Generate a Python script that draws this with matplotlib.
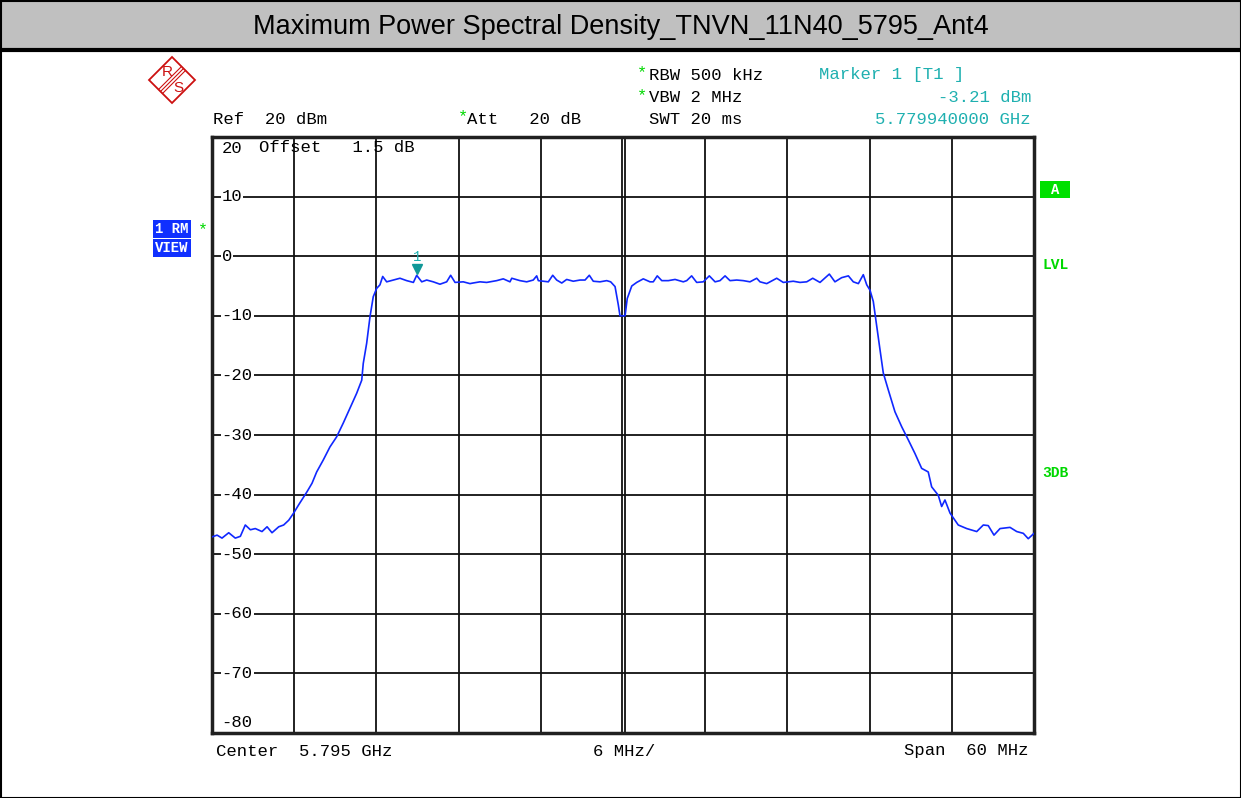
import matplotlib
matplotlib.use("Agg")
import matplotlib.pyplot as plt
from matplotlib.patches import Rectangle, Polygon
import matplotlib.transforms as mtrans

W, H = 1241, 798

# ---- data: frequency offset from centre (MHz) and level (dBm) ----
freq_mhz = [-30.00, -29.63, -29.27, -28.78, -28.30, -27.93, -27.57, -27.20, -26.84, -26.35,
            -25.98, -25.62, -25.13, -24.77, -24.40, -24.04, -23.67, -23.31, -23.06, -22.70,
            -22.36, -21.88, -21.39, -20.90, -20.42, -19.93, -19.44, -19.07, -18.96, -18.71,
            -18.47, -18.23, -17.98, -17.74, -17.54, -17.25, -16.77, -16.28, -15.79, -15.30,
            -15.06, -14.69, -14.33, -13.85, -13.36, -12.87, -12.58, -12.26, -11.66, -11.17,
            -10.95, -10.44, -9.95, -9.22, -8.74, -8.25, -8.12, -7.52, -7.03, -6.55,
            -6.30, -6.18, -5.82, -5.45, -5.13, -4.84, -4.47, -4.11, -3.63, -3.14,
            -2.77, -2.46, -2.17, -1.68, -1.19, -0.90, -0.58, -0.34, -0.22, 0.15,
            0.31, 0.64, 1.00, 1.48, 1.97, 2.21, 2.50, 2.83, 3.31, 3.80,
            4.40, 4.65, 5.01, 5.38, 5.86, 6.30, 6.72, 7.08, 7.45, 7.81,
            8.30, 8.78, 9.27, 9.76, 10.00, 10.49, 11.22, 11.70, 12.43, 12.92,
            13.41, 13.85, 14.38, 15.06, 15.47, 15.96, 16.45, 16.81, 17.18, 17.54,
            17.79, 18.03, 18.27, 18.52, 18.76, 19.00, 19.36, 19.85, 20.34, 20.82,
            21.31, 21.80, 22.28, 22.53, 23.01, 23.26, 23.50, 23.87, 24.47, 25.09,
            25.82, 26.30, 26.66, 27.08, 27.52, 28.25, 28.74, 29.22, 29.58, 30.00]
level_dbm = [-47.1, -46.8, -47.3, -46.4, -47.3, -47.0, -45.1, -45.9, -45.7, -46.2,
             -45.4, -46.4, -45.4, -45.1, -44.3, -43.1, -41.7, -40.4, -39.5, -38.1,
             -36.2, -34.2, -32.0, -30.3, -28.0, -25.5, -23.0, -20.8, -18.0, -14.6,
             -10.2, -6.8, -5.4, -4.8, -3.4, -4.3, -4.0, -3.7, -4.1, -4.4,
             -3.21, -4.3, -4.0, -4.3, -4.7, -4.3, -3.2, -4.4, -4.3, -4.6,
             -4.5, -4.3, -4.4, -4.1, -3.8, -4.3, -3.7, -4.1, -4.3, -4.0,
             -3.3, -4.1, -4.2, -4.3, -3.2, -4.0, -4.5, -3.9, -4.2, -4.0,
             -4.0, -3.2, -4.2, -4.3, -4.1, -4.3, -5.1, -8.2, -10.0, -10.0,
             -7.1, -5.0, -4.4, -3.8, -4.3, -4.3, -3.3, -4.1, -4.1, -3.9,
             -4.3, -4.1, -3.3, -4.4, -4.3, -3.3, -4.3, -4.1, -3.3, -4.1,
             -4.0, -4.1, -4.3, -3.7, -4.3, -4.6, -3.7, -4.4, -4.2, -4.4,
             -4.3, -3.7, -4.4, -3.0, -4.3, -3.6, -3.3, -4.3, -4.6, -3.1,
             -4.8, -5.7, -7.6, -11.8, -15.7, -19.6, -22.4, -26.1, -28.6, -30.8,
             -33.1, -35.6, -36.2, -38.7, -40.1, -42.0, -40.9, -43.1, -45.1, -45.7,
             -46.2, -45.1, -45.2, -46.8, -45.7, -45.5, -46.2, -46.5, -47.4, -46.5]

y_ticks = [10, 0, -10, -20, -30, -40, -50, -60, -70]
y_tick_labels = ["10", "0", "-10", "-20", "-30", "-40", "-50", "-60", "-70"]
x_grid = [-24, -18, -12, -6, 6, 12, 18, 24]

marker_freq = -15.06
marker_level = -3.21

title = "Maximum Power Spectral Density_TNVN_11N40_5795_Ant4"

MONO = "Liberation Mono"
SANS = "Liberation Sans"
TEAL = "#1fb0b0"
GREEN = "#00d800"
BLUE_BOX = "#1030ff"
TRACE = "#1028ff"
RED = "#cc1010"

fig = plt.figure(figsize=(W / 100, H / 100), dpi=100)
fig.patch.set_facecolor("white")


def fx(x):
    return x / W


def fy(y):
    return 1 - y / H


# ---- title bar and outer frame ----
fig.patches.append(Rectangle((0, fy(49)), 1, 49 / H, transform=fig.transFigure,
                             facecolor="#c0c0c0", edgecolor="none", zorder=0))
fig.lines.append(plt.Line2D([0, 1], [fy(50), fy(50)], transform=fig.transFigure,
                            color="black", lw=3))
fig.patches.append(Rectangle((fx(0.5), fy(797.5)), fx(1240), 797 / H, transform=fig.transFigure,
                             facecolor="none", edgecolor="black", lw=1.5))
fig.text(0.5, fy(27), title, ha="center", va="center", fontsize=19.5, family=SANS)

# ---- header texts ----
fs = 12.4
fig.text(fx(213), fy(119), "Ref  20 dBm", fontsize=fs, family=MONO, va="center")
fig.text(fx(458), fy(117), "*", fontsize=fs, family=MONO, va="center", color=GREEN)
fig.text(fx(467), fy(119), "Att   20 dB", fontsize=fs, family=MONO, va="center")
fig.text(fx(649), fy(119), "SWT 20 ms", fontsize=fs, family=MONO, va="center")
fig.text(fx(637), fy(73), "*", fontsize=fs, family=MONO, va="center", color=GREEN)
fig.text(fx(649), fy(75), "RBW 500 kHz", fontsize=fs, family=MONO, va="center")
fig.text(fx(637), fy(96), "*", fontsize=fs, family=MONO, va="center", color=GREEN)
fig.text(fx(649), fy(98), "VBW 2 MHz", fontsize=fs, family=MONO, va="center")
fig.text(fx(819), fy(75), "Marker 1 [T1 ]", fontsize=fs, family=MONO, va="center", color=TEAL)
fig.text(fx(1031), fy(98), "-3.21 dBm", fontsize=fs, family=MONO, va="center", ha="right", color=TEAL)
fig.text(fx(1031), fy(119), "5.779940000 GHz", fontsize=fs, family=MONO, va="center", ha="right", color=TEAL)

# ---- bottom texts ----
fig.text(fx(216), fy(751), "Center  5.795 GHz", fontsize=fs, family=MONO, va="center")
fig.text(fx(624), fy(751), "6 MHz/", fontsize=fs, family=MONO, va="center", ha="center")
fig.text(fx(1029), fy(751), "Span  60 MHz", fontsize=fs, family=MONO, va="center", ha="right")

# ---- side boxes ----
bfs = 10
fig.text(fx(155), fy(229), "1 RM", fontsize=bfs, family=MONO, weight="bold", color="white",
         va="center", bbox=dict(facecolor=BLUE_BOX, edgecolor="none", pad=1.5))
fig.text(fx(198), fy(230), "*", fontsize=bfs + 2, family=MONO, color=GREEN, va="center")
fig.text(fx(155), fy(248), "VIEW", fontsize=bfs, family=MONO, weight="bold", color="white",
         va="center", bbox=dict(facecolor=BLUE_BOX, edgecolor="none", pad=1.5))
fig.patches.append(Rectangle((fx(1040), fy(198)), 30 / W, 17 / H, transform=fig.transFigure,
                             facecolor="#00e000", edgecolor="none"))
fig.text(fx(1055), fy(190), "A", fontsize=bfs, family=MONO, weight="bold", color="white",
         va="center", ha="center")
fig.text(fx(1042), fy(265), "LVL", fontsize=10.5, family=MONO, weight="bold", color=GREEN, va="center")
fig.text(fx(1042), fy(473), "3DB", fontsize=10.5, family=MONO, weight="bold", color=GREEN, va="center")

# ---- R&S logo ----
lx, ly, r = 172, 80, 23
fig.patches.append(Polygon([(fx(lx), fy(ly - r)), (fx(lx + r), fy(ly)), (fx(lx), fy(ly + r)),
                            (fx(lx - r), fy(ly))], closed=True, transform=fig.transFigure,
                           facecolor="white", edgecolor=RED, lw=1.3))
for d in (-2, 0, 2):
    fig.lines.append(plt.Line2D([fx(lx - r / 2 + d), fx(lx + r / 2 + d)],
                                [fy(ly + r / 2 + d), fy(ly - r / 2 + d)],
                                transform=fig.transFigure, color=RED, lw=0.8))
fig.text(fx(lx - 5), fy(ly - 8), "R", fontsize=11, family=SANS, color=RED, ha="center", va="center")
fig.text(fx(lx + 6), fy(ly + 8), "S", fontsize=11, family=SANS, color=RED, ha="center", va="center")

# ---- plot area ----
L, R, T, B = 212, 1034, 137, 733
ax = fig.add_axes([fx(L), fy(B), (R - L) / W, (B - T) / H])
ax.set_xlim(-30, 30)
ax.set_ylim(-80, 20)
ax.set_xticks([])
ax.set_yticks([])
for s in ax.spines.values():
    s.set_linewidth(2.5)
    s.set_color("#202020")

for v in y_ticks:
    ax.axhline(v, color="#101010", lw=1.3, zorder=1)
for v in x_grid:
    ax.axvline(v, color="#101010", lw=1.3, zorder=1)
ax.axvline(-0.1, color="#101010", lw=1.3, zorder=1)
ax.axvline(0.15, color="#101010", lw=1.3, zorder=1)

for v, lab in zip(y_ticks, y_tick_labels):
    ax.text(-29.3, v, lab, fontsize=fs, family=MONO, ha="left", va="center", zorder=2,
            bbox=dict(facecolor="white", edgecolor="none", pad=0.6))
ax.text(-29.3, 18.0, "20", fontsize=fs, family=MONO, ha="left", va="center", zorder=2)
ax.text(-26.6, 18.2, "Offset   1.5 dB", fontsize=fs, family=MONO, ha="left", va="center", zorder=2)
ax.text(-29.3, -78.3, "-80", fontsize=fs, family=MONO, ha="left", va="center", zorder=2)

ax.plot(freq_mhz, level_dbm, color=TRACE, lw=1.2, zorder=3)

tr = mtrans.offset_copy(ax.transData, fig=fig, x=0, y=4.5, units="points")
ax.plot([marker_freq], [marker_level], marker="v", color="#109898", markersize=7,
        transform=tr, zorder=4)
tr2 = mtrans.offset_copy(ax.transData, fig=fig, x=0, y=13, units="points")
ax.text(marker_freq, marker_level, "1", fontsize=10, family=MONO, color=TEAL, ha="center",
        va="center", transform=tr2, zorder=4)

fig.savefig("out.png", dpi=100)
